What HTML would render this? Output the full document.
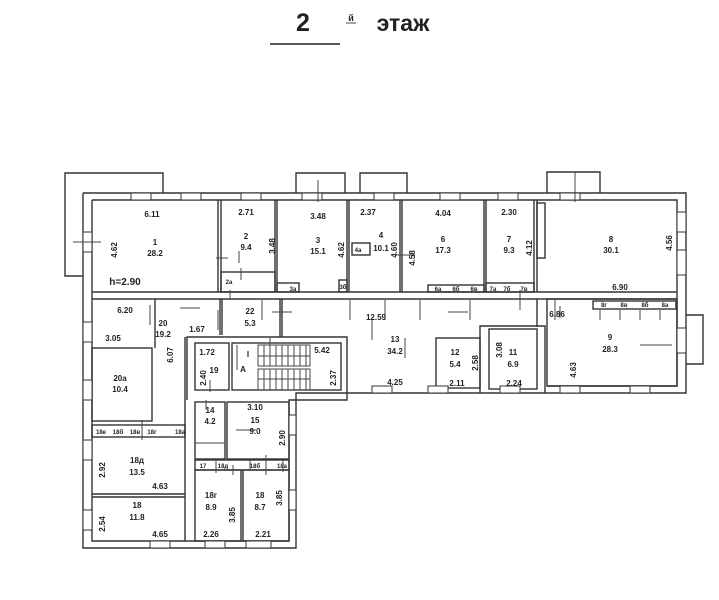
<!DOCTYPE html>
<html><head><meta charset="utf-8"><style>
body{margin:0;background:#fff;width:719px;height:600px;overflow:hidden}
svg{display:block}
text{font-family:"Liberation Sans",sans-serif;font-weight:bold;fill:#222}
.w{fill:none;stroke:#333;stroke-width:1.4}
.t{stroke:#444;stroke-width:1}
.n{font-size:8px;text-anchor:middle}
.s{font-size:6px;text-anchor:middle}
</style></head><body>
<svg width="719" height="600" viewBox="0 0 719 600">
<rect width="719" height="600" fill="#fff"/>
<text x="303" y="31" font-size="25" text-anchor="middle">2</text>
<text x="351" y="21" font-size="9" text-anchor="middle">й</text>
<line x1="346" y1="23" x2="356" y2="23" class="t"/>
<text x="403" y="31" font-size="23" text-anchor="middle">этаж</text>
<line x1="270" y1="44" x2="340" y2="44" stroke="#222" stroke-width="1.5"/>

<!-- bays -->
<g class="w">
<polyline points="83,276 65,276 65,173 163,173 163,193"/>
<polyline points="296,193 296,173 345,173 345,193"/>
<polyline points="360,193 360,173 407,173 407,193"/>
<polyline points="547,193 547,172 600,172 600,193"/>
<polyline points="686,315 703,315 703,364 686,364"/>
</g>
<!-- outer walls -->
<g class="w">
<polyline points="83,193 686,193 686,393 296,393 296,548 83,548 83,193"/>
<polyline points="92,200 677,200 677,386 547,386"/>
<polyline points="92,200 92,541 289,541 289,400 347,400 347,386"/>
<!-- corridor walls -->
<line x1="92" y1="292" x2="677" y2="292"/>
<line x1="92" y1="299" x2="677" y2="299"/>
<!-- top partitions -->
<line x1="218" y1="200" x2="218" y2="292"/><line x1="221" y1="200" x2="221" y2="292"/>
<line x1="275" y1="200" x2="275" y2="292"/><line x1="277" y1="200" x2="277" y2="292"/>
<line x1="347" y1="200" x2="347" y2="292"/><line x1="349" y1="200" x2="349" y2="292"/>
<line x1="400" y1="200" x2="400" y2="292"/><line x1="402" y1="200" x2="402" y2="292"/>
<line x1="484" y1="200" x2="484" y2="292"/><line x1="486" y1="200" x2="486" y2="292"/>
<line x1="534" y1="200" x2="534" y2="292"/><line x1="537" y1="200" x2="537" y2="292"/>
<rect x="221" y="272" width="54" height="20"/>
<rect x="277" y="283" width="22" height="9"/>
<rect x="339" y="280" width="8" height="12"/>
<rect x="352" y="243" width="18" height="12"/>
<rect x="428" y="285" width="56" height="7"/>
<rect x="486" y="283" width="48" height="9"/>
<rect x="537" y="203" width="8" height="55"/>
<!-- lower east -->
<line x1="220" y1="299" x2="220" y2="335"/><line x1="222" y1="299" x2="222" y2="335"/>
<line x1="280" y1="299" x2="280" y2="337"/><line x1="282" y1="299" x2="282" y2="337"/>
<line x1="537" y1="299" x2="537" y2="327"/>
<polyline points="480,393 480,326 545,326 545,393"/>
<rect x="489" y="329" width="48" height="60"/>
<rect x="436" y="338" width="44" height="50"/>
<rect x="547" y="299" width="130" height="87"/>
<rect x="593" y="301" width="83" height="8"/>
<!-- stair block -->
<polyline points="187,400 187,337 347,337 347,386"/>
<rect x="195" y="343" width="34" height="47"/>
<rect x="232" y="343" width="109" height="47"/>
<!-- west wing -->
<rect x="92" y="348" width="60" height="73"/>
<line x1="155" y1="299" x2="155" y2="348"/>
<line x1="185" y1="337" x2="185" y2="541"/>
<rect x="92" y="425" width="93" height="12"/>
<line x1="92" y1="494" x2="185" y2="494"/><line x1="92" y1="497" x2="185" y2="497"/>
<rect x="195" y="402" width="30" height="57"/>
<rect x="227" y="402" width="62" height="57"/>
<rect x="195" y="460" width="94" height="10"/>
<rect x="195" y="470" width="46" height="71"/>
<rect x="243" y="470" width="46" height="71"/>
</g>
<!-- stairs -->
<g class="t">
<rect x="258" y="345" width="52" height="21" fill="none"/>
<rect x="258" y="369" width="52" height="21" fill="none"/>
<path d="M264 345v21M270 345v21M276 345v21M282 345v21M288 345v21M294 345v21M300 345v21M306 345v21M264 369v21M270 369v21M276 369v21M282 369v21M288 369v21M294 369v21M300 369v21M306 369v21"/>
<line x1="258" y1="356" x2="310" y2="356"/><line x1="258" y1="379" x2="310" y2="379"/>
</g>
<!-- windows -->
<g fill="#fff" stroke="#333" stroke-width="1">
<rect x="131" y="193" width="20" height="7"/><rect x="181" y="193" width="20" height="7"/>
<rect x="241" y="193" width="20" height="7"/><rect x="302" y="193" width="20" height="7"/>
<rect x="374" y="193" width="20" height="7"/><rect x="440" y="193" width="20" height="7"/>
<rect x="498" y="193" width="20" height="7"/><rect x="560" y="193" width="20" height="7"/>
<rect x="83" y="232" width="9" height="20"/><rect x="83" y="322" width="9" height="20"/>
<rect x="83" y="380" width="9" height="20"/><rect x="83" y="440" width="9" height="20"/>
<rect x="83" y="510" width="9" height="20"/>
<rect x="677" y="212" width="9" height="20"/><rect x="677" y="250" width="9" height="25"/>
<rect x="677" y="328" width="9" height="25"/>
<rect x="289" y="415" width="7" height="20"/><rect x="289" y="490" width="7" height="20"/>
<rect x="372" y="386" width="20" height="7"/><rect x="428" y="386" width="20" height="7"/>
<rect x="500" y="386" width="20" height="7"/><rect x="560" y="386" width="20" height="7"/>
<rect x="630" y="386" width="20" height="7"/>
<rect x="150" y="541" width="20" height="7"/><rect x="205" y="541" width="20" height="7"/>
<rect x="246" y="541" width="25" height="7"/>
</g>
<!-- door ticks -->
<g class="t">
<path d="M73 242h28M150 305v20M218 310v20M235 278h0M318 180v22M303 200v0M262 300v20M350 300v20M385 300v20M420 300v20M470 300v20M520 310v-20M555 300v20M640 345h32M575 172v30M415 255h-20M216 258h12M200 308h-20M272 312h20M372 340v-20M448 312h20M270 338v20M405 338v20M330 355v0M237 345v25M241 280v-12M239 263v-12M232 388v-12M560 318v-12M600 310v10M620 310v10M640 310v10M660 310v10M230 300v-10M236 430h20M142 420v20M195 443h30M255 505h0M233 465v10M216 473v-12M250 460v10M266 455v20M283 460v12M210 380v12M206 400v10M195 410v0"/>
</g>
<!-- labels -->
<g class="n">
<text x="152" y="217">6.11</text><text x="155" y="245">1</text><text x="155" y="256">28.2</text>
<text x="125" y="285" font-size="10">h=2.90</text>
<text x="246" y="215">2.71</text><text x="246" y="239">2</text><text x="246" y="250">9.4</text>
<text x="318" y="219">3.48</text><text x="318" y="243">3</text><text x="318" y="254">15.1</text>
<text x="368" y="215">2.37</text><text x="381" y="238">4</text><text x="381" y="251">10.1</text>
<text x="443" y="216">4.04</text><text x="443" y="242">6</text><text x="443" y="253">17.3</text>
<text x="509" y="215">2.30</text><text x="509" y="242">7</text><text x="509" y="253">9.3</text>
<text x="611" y="242">8</text><text x="611" y="253">30.1</text><text x="620" y="290">6.90</text>
<text x="125" y="313">6.20</text><text x="163" y="326">20</text><text x="163" y="337">19.2</text>
<text x="197" y="332">1.67</text><text x="113" y="341">3.05</text>
<text x="250" y="314">22</text><text x="250" y="326">5.3</text>
<text x="376" y="320">12.59</text><text x="395" y="342">13</text><text x="395" y="354">34.2</text>
<text x="395" y="385">4.25</text><text x="557" y="317">6.86</text>
<text x="610" y="340">9</text><text x="610" y="352">28.3</text>
<text x="455" y="355">12</text><text x="455" y="367">5.4</text><text x="457" y="386">2.11</text>
<text x="513" y="355">11</text><text x="513" y="367">6.9</text><text x="514" y="386">2.24</text>
<text x="207" y="355">1.72</text><text x="214" y="373">19</text><text x="243" y="372">A</text><text x="248" y="357">I</text>
<text x="322" y="353">5.42</text>
<text x="120" y="381">20a</text><text x="120" y="392">10.4</text>
<text x="210" y="413">14</text><text x="210" y="424">4.2</text>
<text x="255" y="410">3.10</text><text x="255" y="423">15</text><text x="255" y="434">9.0</text>
<text x="137" y="463">18д</text><text x="137" y="475">13.5</text><text x="160" y="489">4.63</text>
<text x="137" y="508">18</text><text x="137" y="520">11.8</text><text x="160" y="537">4.65</text>
<text x="211" y="498">18г</text><text x="211" y="510">8.9</text><text x="211" y="537">2.26</text>
<text x="260" y="498">18</text><text x="260" y="510">8.7</text><text x="263" y="537">2.21</text>
</g>
<g class="n">
<text transform="translate(117,250) rotate(-90)">4.62</text>
<text transform="translate(275,246) rotate(-90)">3.48</text>
<text transform="translate(344,250) rotate(-90)">4.62</text>
<text transform="translate(397,250) rotate(-90)">4.60</text>
<text transform="translate(415,258) rotate(-90)">4.58</text>
<text transform="translate(532,248) rotate(-90)">4.12</text>
<text transform="translate(672,243) rotate(-90)">4.56</text>
<text transform="translate(173,355) rotate(-90)">6.07</text>
<text transform="translate(206,378) rotate(-90)">2.40</text>
<text transform="translate(336,378) rotate(-90)">2.37</text>
<text transform="translate(478,363) rotate(-90)">2.58</text>
<text transform="translate(502,350) rotate(-90)">3.08</text>
<text transform="translate(576,370) rotate(-90)">4.63</text>
<text transform="translate(285,438) rotate(-90)">2.90</text>
<text transform="translate(105,470) rotate(-90)">2.92</text>
<text transform="translate(105,524) rotate(-90)">2.54</text>
<text transform="translate(235,515) rotate(-90)">3.85</text>
<text transform="translate(282,498) rotate(-90)">3.85</text>
</g>
<g class="s">
<text x="229" y="284">2a</text><text x="293" y="291">3a</text><text x="343" y="289">3б</text><text x="358" y="252">4a</text>
<text x="438" y="291">6a</text><text x="456" y="291">6б</text><text x="474" y="291">6в</text>
<text x="493" y="291">7a</text><text x="507" y="291">7б</text><text x="524" y="291">7в</text>
<text x="604" y="307">8г</text><text x="624" y="307">8в</text><text x="645" y="307">8б</text><text x="665" y="307">8a</text>
<text x="101" y="434">18e</text><text x="118" y="434">18б</text><text x="135" y="434">18в</text><text x="152" y="434">18г</text><text x="180" y="434">18a</text>
<text x="203" y="468">17</text><text x="223" y="468">18д</text><text x="255" y="468">18б</text><text x="282" y="468">18a</text>
</g>
</svg>
</body></html>
